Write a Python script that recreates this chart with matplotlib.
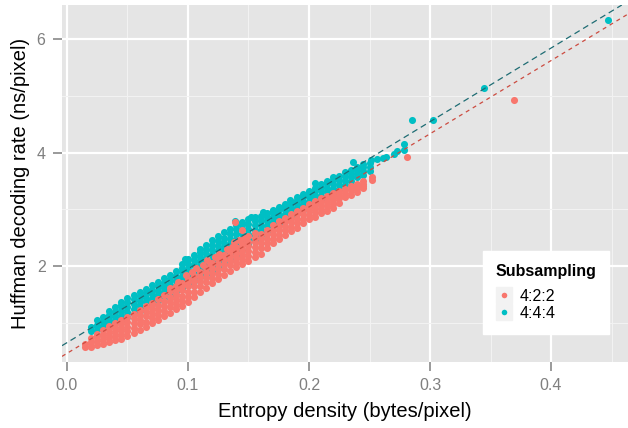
import matplotlib.pyplot as plt
from matplotlib.lines import Line2D
from matplotlib.legend_handler import HandlerTuple

plt.rcParams['font.family'] = ['Liberation Sans', 'DejaVu Sans']

# 4:2:2 -- main band, one column of points per entropy value
red_x = [0.015, 0.020, 0.025, 0.030, 0.035, 0.040, 0.045, 0.050, 0.055, 0.060,
         0.065, 0.070, 0.075, 0.080, 0.085, 0.090, 0.095, 0.100, 0.105, 0.110,
         0.115, 0.120, 0.125, 0.130, 0.135, 0.140, 0.145, 0.150, 0.155, 0.160,
         0.165, 0.170, 0.175, 0.180, 0.185, 0.190, 0.195, 0.200, 0.205, 0.210,
         0.215, 0.220, 0.225, 0.230, 0.235, 0.240, 0.245]
red_y = [
    [0.58, 0.63],
    [0.58, 0.66, 0.73],
    [0.60, 0.68, 0.76, 0.81],
    [0.63, 0.71, 0.79, 0.87],
    [0.66, 0.74, 0.82, 0.90, 0.94],
    [0.69, 0.77, 0.85, 0.93, 1.00],
    [0.72, 0.81, 0.89, 0.97, 1.05],
    [0.76, 0.85, 0.93, 1.02, 1.10],
    [0.82, 0.91, 0.99, 1.08, 1.16],
    [0.88, 0.97, 1.05, 1.14, 1.22],
    [0.93, 1.02, 1.11, 1.20, 1.29],
    [0.99, 1.08, 1.17, 1.26, 1.35],
    [1.05, 1.14, 1.23, 1.32, 1.42],
    [1.12, 1.21, 1.30, 1.39, 1.49],
    [1.18, 1.27, 1.36, 1.45, 1.56],
    [1.24, 1.33, 1.42, 1.51, 1.60, 1.64],
    [1.30, 1.39, 1.48, 1.57, 1.66, 1.70],
    [1.37, 1.46, 1.55, 1.64, 1.72, 1.77],
    [1.46, 1.55, 1.64, 1.73, 1.82],
    [1.55, 1.64, 1.73, 1.81, 1.89],
    [1.62, 1.71, 1.80, 1.89, 1.97],
    [1.70, 1.79, 1.88, 1.97, 2.05],
    [1.77, 1.86, 1.95, 2.04, 2.13],
    [1.85, 1.94, 2.03, 2.12, 2.20],
    [1.92, 2.01, 2.10, 2.19, 2.27],
    [1.98, 2.07, 2.16, 2.25, 2.33],
    [2.03, 2.12, 2.21, 2.30, 2.38],
    [2.08, 2.17, 2.26, 2.35, 2.43],
    [2.15, 2.24, 2.33, 2.42, 2.50],
    [2.22, 2.31, 2.40, 2.49, 2.56],
    [2.31, 2.40, 2.48, 2.57, 2.64],
    [2.40, 2.48, 2.56, 2.64, 2.72],
    [2.47, 2.55, 2.63, 2.71, 2.79],
    [2.55, 2.63, 2.71, 2.79, 2.85],
    [2.61, 2.69, 2.77, 2.85, 2.91],
    [2.67, 2.75, 2.83, 2.91, 2.97],
    [2.75, 2.83, 2.91, 2.98, 3.03],
    [2.82, 2.90, 2.98, 3.05, 3.10],
    [2.87, 2.95, 3.03, 3.10, 3.15],
    [2.93, 3.01, 3.08, 3.15, 3.20],
    [2.97, 3.05, 3.12, 3.19, 3.24],
    [3.02, 3.10, 3.17, 3.24, 3.28],
    [3.11, 3.19, 3.26, 3.32],
    [3.21, 3.29, 3.36],
    [3.26, 3.34, 3.41],
    [3.31, 3.38, 3.45],
    [3.37, 3.44, 3.50],
]
# 4:2:2 -- scattered points outside the band
red_extra_x = [0.085, 0.092, 0.098, 0.103, 0.107, 0.112, 0.116, 0.118, 0.122, 0.126,
               0.128, 0.132, 0.136, 0.138, 0.139, 0.142, 0.145, 0.146, 0.150, 0.155,
               0.240, 0.245, 0.252, 0.252, 0.281, 0.369]
red_extra_y = [1.62, 1.72, 1.84, 1.90, 1.97, 2.02, 2.10, 2.05, 2.16, 2.22,
               2.18, 2.30, 2.34, 2.42, 2.77, 2.45, 2.63, 2.50, 2.52, 2.58,
               3.37, 3.41, 3.52, 3.57, 3.92, 4.92]

# 4:4:4 -- main band
teal_x = [0.020, 0.025, 0.030, 0.035, 0.040, 0.045, 0.050, 0.055, 0.060, 0.065,
          0.070, 0.075, 0.080, 0.085, 0.090, 0.095, 0.100, 0.105, 0.110, 0.115,
          0.120, 0.125, 0.130, 0.135, 0.140, 0.145, 0.150, 0.155, 0.160, 0.165,
          0.170, 0.175, 0.180, 0.185, 0.190, 0.195, 0.200, 0.205, 0.210, 0.215,
          0.220, 0.225, 0.230, 0.235, 0.240, 0.245, 0.250]
teal_y = [
    [0.85, 0.93],
    [0.88, 0.96, 1.04],
    [0.93, 1.01, 1.10],
    [0.97, 1.05, 1.13, 1.21],
    [1.01, 1.10, 1.19, 1.28],
    [1.05, 1.14, 1.23, 1.31, 1.37],
    [1.10, 1.19, 1.28, 1.37, 1.44],
    [1.15, 1.24, 1.33, 1.42, 1.49],
    [1.21, 1.30, 1.39, 1.47, 1.55],
    [1.27, 1.36, 1.44, 1.52, 1.60],
    [1.33, 1.42, 1.50, 1.58, 1.66],
    [1.38, 1.47, 1.56, 1.64, 1.71],
    [1.43, 1.52, 1.61, 1.70, 1.78],
    [1.49, 1.58, 1.67, 1.76, 1.85],
    [1.56, 1.65, 1.74, 1.83, 1.92],
    [1.62, 1.71, 1.80, 1.89, 1.97, 2.04],
    [1.68, 1.77, 1.86, 1.95, 2.04, 2.13],
    [1.74, 1.83, 1.92, 2.01, 2.10, 2.20],
    [1.80, 1.89, 1.98, 2.07, 2.16, 2.24, 2.30],
    [1.86, 1.95, 2.04, 2.13, 2.22, 2.30, 2.37],
    [1.92, 2.01, 2.10, 2.19, 2.28, 2.37, 2.45],
    [1.99, 2.08, 2.17, 2.26, 2.35, 2.44, 2.53],
    [2.05, 2.14, 2.23, 2.32, 2.41, 2.50, 2.60],
    [2.12, 2.21, 2.30, 2.39, 2.48, 2.57, 2.66],
    [2.20, 2.29, 2.38, 2.47, 2.56, 2.65, 2.73],
    [2.29, 2.38, 2.47, 2.56, 2.65, 2.72, 2.78],
    [2.38, 2.47, 2.56, 2.65, 2.74, 2.83],
    [2.46, 2.55, 2.64, 2.72, 2.80, 2.86],
    [2.55, 2.64, 2.73, 2.81, 2.89],
    [2.62, 2.71, 2.79, 2.87, 2.93],
    [2.70, 2.78, 2.86, 2.94, 2.99],
    [2.76, 2.84, 2.92, 3.00, 3.04],
    [2.82, 2.90, 2.98, 3.05, 3.10],
    [2.88, 2.96, 3.04, 3.12],
    [2.93, 3.01, 3.09, 3.17, 3.21],
    [2.99, 3.07, 3.15, 3.23, 3.27],
    [3.05, 3.13, 3.21, 3.29, 3.33],
    [3.10, 3.18, 3.26, 3.34, 3.38],
    [3.16, 3.24, 3.32, 3.40, 3.44],
    [3.22, 3.30, 3.38, 3.46, 3.50],
    [3.28, 3.36, 3.44, 3.52, 3.56],
    [3.35, 3.43, 3.51, 3.59],
    [3.42, 3.50, 3.58, 3.65],
    [3.49, 3.57, 3.64, 3.70],
    [3.56, 3.63, 3.70, 3.75],
    [3.61, 3.68, 3.75, 3.80],
    [3.67, 3.75, 3.82],
]
teal_extra_x = [0.0975, 0.139, 0.152, 0.162, 0.170, 0.184, 0.205, 0.236, 0.251, 0.256,
                0.261, 0.264, 0.270, 0.273, 0.2785, 0.2785, 0.285, 0.3025, 0.345, 0.447]
teal_extra_y = [2.12, 2.80, 2.86, 2.95, 2.97, 3.16, 3.46, 3.84, 3.86, 3.88,
                3.90, 3.92, 3.97, 4.03, 4.05, 4.15, 4.57, 4.57, 5.14, 6.33]

# linear fits (intercept, slope)
red_fit = (0.46, 12.9)
teal_fit = (0.649, 12.98)

labels = ['4:2:2', '4:4:4']
red_col = '#F8766D'
teal_col = '#00BFC4'


def flatten(xs, cols, ex_x, ex_y):
    px = [x for x, col in zip(xs, cols) for _ in col] + ex_x
    py = [v for col in cols for v in col] + ex_y
    return px, py


rx, ry = flatten(red_x, red_y, red_extra_x, red_extra_y)
tx, ty = flatten(teal_x, teal_y, teal_extra_x, teal_extra_y)

fig = plt.figure(figsize=(6.28, 4.28), dpi=100)
ax = fig.add_axes([62 / 628, 66 / 428, 566 / 628, 357 / 428])
ax.set_facecolor('#E5E5E5')

ax.scatter(tx, ty, s=26, color=teal_col, linewidths=0, zorder=2)
ax.scatter(rx, ry, s=26, color=red_col, linewidths=0, zorder=3)

ax.axline((0, teal_fit[0]), slope=teal_fit[1], color='#1E6C73', lw=0.9,
          linestyle=(0, (4.8, 3.2)), zorder=4)
ax.axline((0, red_fit[0]), slope=red_fit[1], color='#CC4B40', lw=0.9,
          linestyle=(0, (3.2, 3.2)), zorder=4)

ax.set_xlim(-0.0041, 0.4636)
ax.set_ylim(0.308, 6.6)
ax.set_xticks([0.0, 0.1, 0.2, 0.3, 0.4])
ax.set_xticklabels(['0.0', '0.1', '0.2', '0.3', '0.4'])
ax.set_xticks([0.05, 0.15, 0.25, 0.35, 0.45], minor=True)
ax.set_yticks([2, 4, 6])
ax.set_yticks([1, 3, 5], minor=True)
ax.grid(which='major', color='white', lw=1.6)
ax.grid(which='minor', color='#F2F2F2', lw=0.8)
ax.set_axisbelow(True)
for s in ax.spines.values():
    s.set_visible(False)
ax.tick_params(which='major', length=6.3, width=1.1, color='#7F7F7F',
               labelcolor='#7F7F7F', labelsize=11.5, pad=5.5)
ax.tick_params(which='minor', length=0)

ax.set_xlabel('Entropy density (bytes/pixel)', fontsize=14.5, labelpad=6)
ax.set_ylabel('Huffman decoding rate (ns/pixel)', fontsize=14.5, labelpad=5)

handles = []
for c in [red_col, teal_col]:
    sq = Line2D([], [], marker='s', markersize=12, color='#F2F2F2', linestyle='')
    dot = Line2D([], [], marker='o', markersize=4, color=c, markeredgewidth=0, linestyle='')
    handles.append((sq, dot))
leg = fig.legend(handles, labels, title='Subsampling', loc='upper left',
                 bbox_to_anchor=(483 / 628, 1 - 251 / 428), borderaxespad=0,
                 handler_map={tuple: HandlerTuple(ndivide=1)},
                 fontsize=11.5, title_fontproperties={'weight': 'bold', 'size': 11.5},
                 alignment='left', frameon=True, fancybox=False, framealpha=1,
                 handlelength=1.05, handleheight=1.0, handletextpad=0.45,
                 labelspacing=0.1, borderpad=0.8)
leg.get_frame().set_facecolor('white')
leg.get_frame().set_edgecolor('white')
leg._legend_box.sep = 7

fig.savefig('out.png', dpi=100)
